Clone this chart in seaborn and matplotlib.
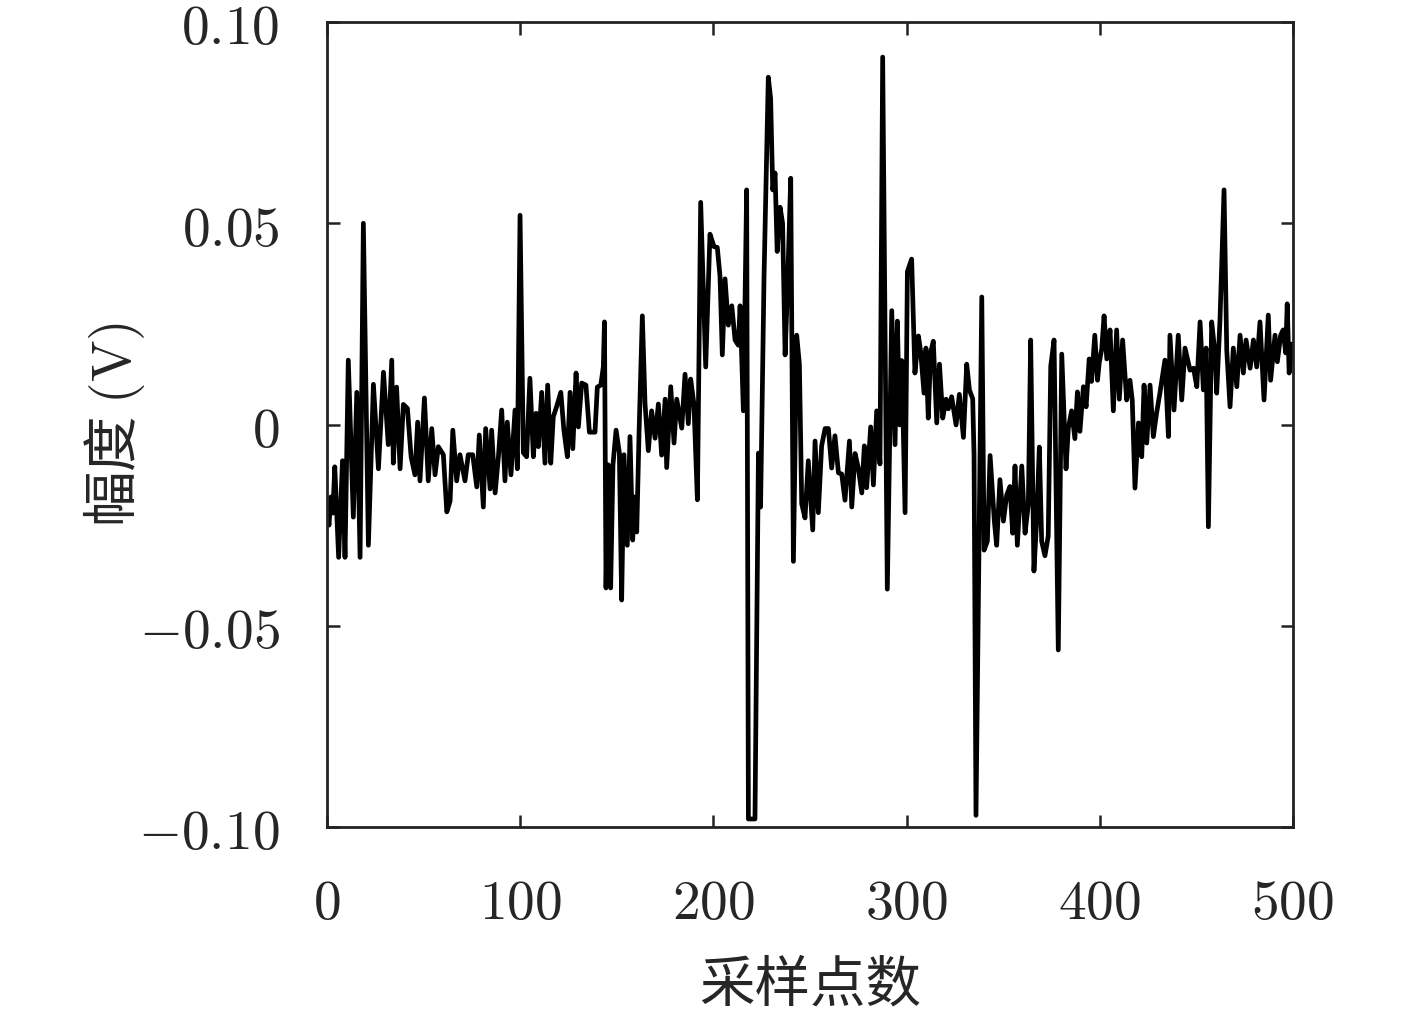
import matplotlib
matplotlib.use("Agg")
import matplotlib.pyplot as plt
import seaborn as sns
import pandas as pd

sample = [0, 1, 2, 3, 4, 6, 8, 9.3, 11, 13.6, 15.4, 17.1, 18.8, 21.4, 24, 26.6, 29.2, 31.7, 33.5, 34.3,
          36, 37.8, 39.5, 41.6, 43.5, 45.5, 46.9, 48.1, 50.4, 52.4, 54.2, 55.9, 57.6, 60.2, 62, 63.7,
          65.1, 67.1, 68.8, 71.4, 73.1, 75.4, 77.5, 78.8, 80.9, 82.1, 84.4,
          85.2, 87, 88.7, 90.4, 92.1, 93.3, 95.2, 97.3, 98.5, 99.9, 101.6, 103.3, 105, 106.8, 108.2,
          109.4, 111.1, 112.8, 114.2, 115.8, 117.1, 118.8, 121, 122.6, 124.4, 125.8, 127.2, 128.9,
          130.1, 131.8, 134, 135.8, 138.7, 139.9, 141.7, 143, 143.6, 144.4, 145.5, 146.8, 148, 149.6,
          151.3, 152.5, 153.7, 155.4, 156.8, 158.2, 159.2, 160.3, 161.5, 163.2,
          164.6, 166.3, 168, 169.8, 171.5, 173.2, 175, 175.8, 177.9, 179.6, 181, 183.6, 185.3, 187,
          188.2, 189.9, 191.7, 193.4, 196, 198.2, 200.3, 202, 203.4, 204.6, 206, 207.7, 209.5, 211.2,
          212.9, 213.8, 215.5, 217.2, 218.1, 221.5, 223.3, 224.4, 226.2, 228.4, 229.6, 230.7, 231.9,
          233, 234.5, 235.8, 237.1, 238.3, 240, 241.4, 243.1, 244.5, 245.7, 247.4, 249.1,
          251.4, 252.6, 254.3, 256, 257.8, 259.5, 261.2, 262.9, 264.7, 266.4, 268.1, 270.4, 271.6,
          273.3, 275, 276.8, 278.1, 279.3, 281.4, 282.8, 284.5, 286.2, 287.6, 290, 292.3, 294, 295.2,
          296.4, 297.5, 299.2, 300.4, 302.6, 304.3, 306.1, 307.3, 309, 310, 311.2, 312.4, 313.8,
          315.6, 317, 318.7, 320.4, 321.6, 323.3, 325.6, 327.3, 329.4, 331.1,
          332.5, 334.2, 334.9, 335.9, 338.9, 340.1, 341.8, 343.2, 345.4, 346.6, 348.3, 350.1, 351.8,
          353.5, 354.9, 356.1, 357.3, 359.6, 361.3, 363, 364.2, 365.9, 367.3, 368.7, 369.9, 371.6,
          373.3, 374.6, 376.3, 378.5, 380.3, 382.5, 383.7, 385.4, 387.1, 388.4, 389.7, 391.5, 392.9,
          394.5, 395.7, 397.4, 398.8, 399.7, 401, 402.2, 403.6, 405.3, 407, 408.7, 410.1, 411.8,
          413.9, 415.6, 416.8, 418.2, 420, 421.7, 422.9, 424.3, 426, 427.7, 429.4, 431.1, 433.7,
          435.5, 436.3, 438.4, 440.6, 442.4, 444.1, 446.7, 448.5, 450.2, 451.9, 453.6, 455, 456.2,
          457.9, 459.6, 460.5, 462.2, 464.3, 465.7, 467.4, 469.1, 470.9, 472.6, 474.3, 475.7, 477.8,
          479.5, 481.2, 482.9, 485, 487.2, 488.4, 490.7, 491.9, 493.6, 494.9, 496.2, 497, 498, 499.5]

amplitude = [-0.020, -0.025, -0.018, -0.022, -0.0105, -0.033, -0.009, -0.033, 0.016, -0.023, 0.008,
             -0.033, 0.050, -0.030, 0.010, -0.011, 0.013, -0.005, 0.016, -0.0096,
             0.0093, -0.011, 0.005, 0.004, -0.008, -0.0125, 0.0006, -0.014, 0.0066, -0.014, -0.001,
             -0.0125, -0.0055, -0.0075, -0.0217, -0.019,
             -0.0014, -0.014, -0.0075, -0.014, -0.0075, -0.0075, -0.0155, -0.0026, -0.0205, -0.001, -0.016,
             -0.0014, -0.017, -0.008, 0.0036, -0.014, 0.0006, -0.0125, 0.0036, -0.011, 0.052, -0.007,
             -0.008, 0.0115, -0.008, 0.0028,
             -0.0055, 0.008, -0.0096, 0.0098, -0.0096, 0.0019, 0.0044, 0.008, -0.0014, -0.008, 0.008,
             -0.006, 0.0128,
             -0.0006, 0.0103, 0.0098, -0.0019, -0.0019, 0.0093, 0.0098, 0.0143, 0.0255, -0.0406, -0.010,
             -0.0406, -0.010, -0.0014,
             -0.007, -0.0436, -0.0075, -0.030, -0.003, -0.0287, -0.018, -0.0267, -0.002, 0.027,
             0.0051, -0.0065, 0.0034, -0.0034, 0.0051, -0.0076, 0.0063, -0.0107, 0.0094, -0.0046, 0.0063,
             -0.0009, 0.0125, 0.0002,
             0.0113, 0.0051, -0.0187, 0.0552, 0.0143, 0.0473, 0.0442, 0.044, 0.0369, 0.0173, 0.0362,
             0.0247, 0.0295, 0.021,
             0.0197, 0.0295, 0.0034, 0.0583, -0.098, -0.098, -0.0071, -0.0205, 0.0369, 0.0863, 0.081,
             0.0583, 0.0625,
             0.043, 0.054, 0.050, 0.0173, 0.0332, 0.0612, -0.034, 0.0222, 0.015, -0.0197, -0.0232, -0.009,
             -0.0262, -0.0041, -0.0219, -0.0053, -0.001, -0.001, -0.0108, -0.0028, -0.012, -0.0123,
             -0.0188, -0.0041, -0.0205,
             -0.0072, -0.0108, -0.017, -0.0053, -0.0157, -0.0006, -0.015, 0.0034, -0.0098, 0.0913,
             -0.0409, 0.0283, -0.005, 0.0257,
             -0.0001, 0.0159, -0.0219, 0.038, 0.0411, 0.0128, 0.022, 0.018, 0.0078, 0.019, 0.0016,
             0.0178, 0.0207,
             0.0004, 0.015, 0.0016, 0.0063, 0.0039, 0.0069, -0.0001, 0.0075, -0.0032, 0.015,
             0.0086, 0.0064, -0.0077, -0.0971, 0.0317, -0.0312, -0.029, -0.0077, -0.024, -0.030, -0.0137,
             -0.024, -0.0175,
             -0.0154, -0.027, -0.0103, -0.030, -0.0103, -0.027, -0.0198, 0.021, -0.0364, -0.024, -0.0056,
             -0.029, -0.0326,
             -0.0277, 0.0145, 0.021, -0.056, 0.0175, -0.011, -0.0009, 0.0034, -0.0035, 0.0081, -0.0017,
             0.0094, 0.0044,
             0.0163, 0.0107, 0.0222, 0.011, 0.0154, 0.0188, 0.027, 0.0163, 0.0235, 0.0034, 0.0235,
             0.0063, 0.021,
             0.0061, 0.011, 0.006, -0.0158, 0.0004, -0.008, 0.0098, -0.0046, 0.0098, -0.003, 0.0029,
             0.0078, 0.016,
             -0.003, 0.0222, 0.0036, 0.0222, 0.0061, 0.019, 0.0135, 0.014, 0.0094, 0.0255, 0.0086, 0.019,
             -0.0254,
             0.0255, 0.0178, 0.0078, 0.026, 0.0583, 0.0185, 0.0044, 0.019, 0.0094, 0.0222, 0.0128, 0.021,
             0.014,
             0.021, 0.0143, 0.0255, 0.0061, 0.0272, 0.011, 0.0222, 0.0156, 0.0222, 0.0235, 0.0178, 0.030,
             0.0128, 0.020]

xticks = [0, 100, 200, 300, 400, 500]
xtick_labels = ["$0$", "$100$", "$200$", "$300$", "$400$", "$500$"]
yticks = [-0.10, -0.05, 0, 0.05, 0.10]
ytick_labels = ["$-0.10$", "$-0.05$", "$0$", "$0.05$", "$0.10$"]
xlabel = "采样点数"
ylabel = "幅度 $(\\mathrm{V})$"

sns.set_theme(style="ticks")
plt.rcParams["font.family"] = ["Noto Sans CJK SC", "DejaVu Sans"]
plt.rcParams["mathtext.fontset"] = "cm"
plt.rcParams["axes.unicode_minus"] = True

df = pd.DataFrame({"sample": sample, "amplitude": amplitude})

fig = plt.figure(figsize=(14.17, 10.16), dpi=100)
ax = fig.add_axes([0.2308, 0.186, 0.6817, 0.7923])
sns.lineplot(data=df, x="sample", y="amplitude", color="black", linewidth=3.4,
             sort=False, estimator=None, ax=ax)

ax.set_xlim(0, 500)
ax.set_ylim(-0.10, 0.10)
ax.set_xticks(xticks)
ax.set_xticklabels(xtick_labels, fontsize=40)
ax.set_yticks(yticks)
ax.set_yticklabels(ytick_labels, fontsize=40)
ax.tick_params(direction="in", top=True, right=True, length=9, width=1.8,
               color="#222222", pad=34)
for s in ax.spines.values():
    s.set_linewidth(2.0)
    s.set_color("#222222")

ax.set_xlabel(xlabel, fontsize=40, labelpad=18)
ax.set_ylabel(ylabel, fontsize=40, labelpad=-6)

fig.savefig("out.png", dpi=100)
